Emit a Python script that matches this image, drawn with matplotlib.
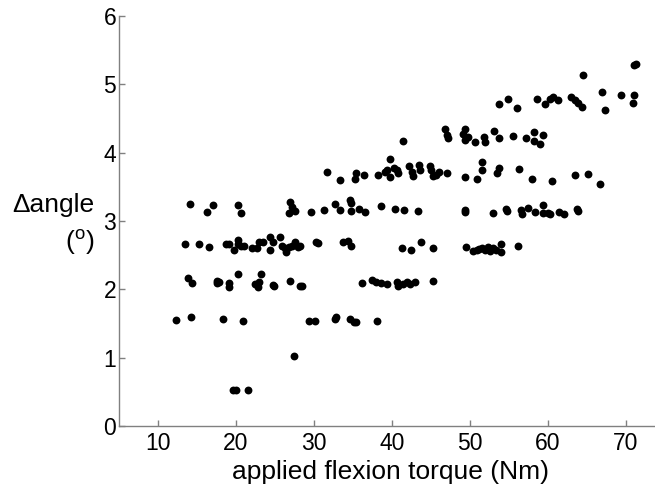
import matplotlib
matplotlib.use('Agg')
import matplotlib.pyplot as plt

plt.rcParams['font.family'] = ['Liberation Sans', 'DejaVu Sans']
plt.rcParams['mathtext.fontset'] = 'custom'
plt.rcParams['mathtext.rm'] = 'Liberation Sans'

# === Data, grouped by horizontal band ===
x_low = [19.6, 20.0, 21.6, 27.4]
y_low = [0.52, 0.52, 0.52, 1.02]

x_155 = [12.3, 14.2, 18.3, 20.9, 29.4, 30.1, 32.7, 32.8, 34.6, 35.1, 35.4, 38.1]
y_155 = [1.55, 1.60, 1.57, 1.53, 1.54, 1.54, 1.57, 1.59, 1.56, 1.52, 1.52, 1.53]

x_210 = [13.9, 14.4, 17.6, 17.5, 17.8, 19.1, 19.1, 20.2, 22.4, 22.8, 22.9, 23.2,
         24.8, 24.9, 26.9, 28.2, 28.4, 36.1, 37.4, 38.0, 38.6, 39.4, 40.6, 40.8,
         41.4, 41.9, 42.3, 42.9, 45.2]
y_210 = [2.16, 2.09, 2.12, 2.09, 2.11, 2.09, 2.04, 2.23, 2.08, 2.04, 2.11, 2.23,
         2.07, 2.05, 2.12, 2.05, 2.05, 2.09, 2.14, 2.11, 2.10, 2.08, 2.11, 2.05,
         2.08, 2.11, 2.08, 2.11, 2.12]

x_265 = [13.5, 15.2, 16.5, 18.7, 19.1, 19.8, 20.2, 20.3, 20.6, 21.0, 22.1, 22.7,
         23.0, 23.4, 24.3, 24.4, 24.7, 25.6, 25.9, 26.3, 26.4, 26.8, 27.2, 27.6,
         27.9, 28.2, 30.3, 30.5, 33.7, 34.3, 34.7, 41.3, 42.4, 43.7, 45.3, 49.5,
         50.4, 50.9, 51.1, 51.5, 51.9, 52.3, 52.6, 53.0, 53.3, 54.0, 54.0, 56.1]
y_265 = [2.66, 2.67, 2.62, 2.66, 2.66, 2.57, 2.72, 2.66, 2.63, 2.64, 2.61, 2.60,
         2.69, 2.69, 2.58, 2.76, 2.69, 2.76, 2.63, 2.60, 2.55, 2.62, 2.64, 2.69,
         2.62, 2.64, 2.69, 2.68, 2.69, 2.71, 2.63, 2.60, 2.57, 2.69, 2.60, 2.62,
         2.56, 2.58, 2.59, 2.60, 2.58, 2.62, 2.56, 2.61, 2.58, 2.66, 2.54, 2.64]

x_315 = [14.1, 16.3, 17.0, 20.2, 20.7, 26.9, 27.2, 27.5, 26.8, 29.6, 31.3, 32.7,
         33.3, 34.6, 34.7, 34.7, 35.8, 36.5, 38.6, 40.4, 41.6, 43.3, 49.3, 49.4,
         53.0, 54.6, 54.7, 56.6, 56.7, 57.4, 58.3, 59.3, 59.4, 60.0, 60.2, 61.4,
         62.0, 63.7, 63.8]
y_315 = [3.25, 3.13, 3.23, 3.24, 3.12, 3.28, 3.21, 3.15, 3.11, 3.13, 3.16, 3.25,
         3.16, 3.31, 3.26, 3.15, 3.18, 3.13, 3.22, 3.18, 3.16, 3.15, 3.16, 3.13,
         3.12, 3.17, 3.15, 3.16, 3.10, 3.19, 3.13, 3.24, 3.11, 3.12, 3.10, 3.13,
         3.10, 3.17, 3.14]

x_370 = [31.7, 33.3, 35.4, 35.3, 36.4, 38.2, 39.1, 39.4, 39.7, 39.8, 40.2, 40.6,
         40.8, 42.2, 42.5, 42.7, 43.4, 43.6, 44.9, 45.0, 45.2, 45.6, 46.0, 47.1,
         49.3, 50.9, 51.6, 51.6, 53.4, 53.7, 56.3, 57.9, 60.5, 63.5, 65.1, 66.7]
y_370 = [3.72, 3.60, 3.70, 3.62, 3.67, 3.67, 3.72, 3.75, 3.90, 3.65, 3.77, 3.74,
         3.70, 3.80, 3.72, 3.66, 3.82, 3.74, 3.80, 3.74, 3.66, 3.68, 3.71, 3.70,
         3.65, 3.62, 3.87, 3.74, 3.70, 3.78, 3.76, 3.62, 3.58, 3.67, 3.69, 3.54]

x_420 = [41.4, 46.8, 47.0, 47.2, 49.4, 49.1, 49.8, 49.4, 50.6, 51.8, 51.9, 53.1,
         53.7, 55.5, 57.2, 58.2, 58.2, 59.0, 59.4]
y_420 = [4.17, 4.34, 4.26, 4.21, 4.34, 4.27, 4.23, 4.18, 4.16, 4.23, 4.16, 4.31,
         4.22, 4.24, 4.21, 4.30, 4.17, 4.12, 4.26]

x_480 = [53.7, 54.9, 56.0, 58.6, 59.6, 60.3, 60.7, 61.3, 63.0, 63.5, 63.9, 64.3,
         66.9, 67.3, 69.4, 71.0, 70.9, 64.5, 71.0, 71.3]
y_480 = [4.71, 4.79, 4.65, 4.79, 4.71, 4.79, 4.81, 4.77, 4.82, 4.77, 4.72, 4.67,
         4.89, 4.63, 4.84, 4.84, 4.73, 5.13, 5.29, 5.30]

torque = x_low + x_155 + x_210 + x_265 + x_315 + x_370 + x_420 + x_480
dangle = y_low + y_155 + y_210 + y_265 + y_315 + y_370 + y_420 + y_480

xticks = [10, 20, 30, 40, 50, 60, 70]
yticks = [0, 1, 2, 3, 4, 5, 6]

# === Plot ===
fig = plt.figure(figsize=(6.55, 4.87), dpi=100)
# right edge of the axis runs past the picture, like the cropped original
ax = fig.add_axes([119 / 655, 61 / 487, 546 / 655, 410 / 487])
ax.scatter(torque, dangle, s=32, c='black', linewidths=0, clip_on=False)

ax.set_xlim(5, 75)
ax.set_ylim(0, 6)
ax.set_xticks(xticks)
ax.set_yticks(yticks)

for side in ['top', 'right']:
    ax.spines[side].set_visible(False)
for side in ['left', 'bottom']:
    ax.spines[side].set_color('#808080')
    ax.spines[side].set_linewidth(1)

ax.tick_params(axis='both', direction='in', length=4, width=1, color='#808080',
               labelcolor='black', labelsize=16.5)
ax.tick_params(axis='x', pad=4)
ax.tick_params(axis='y', pad=2)

fig.text(391 / 655, 1 - 472 / 487, 'applied flexion torque (Nm)', fontsize=19,
         ha='center', va='center')
fig.text(94 / 655, 1 - 205 / 487, '\u0394angle', fontsize=19, ha='right', va='center')
fig.text(94 / 655, 1 - 242 / 487, r'($^{\mathrm{o}}$)', fontsize=19, ha='right', va='center')

fig.savefig('out.png', dpi=100)
